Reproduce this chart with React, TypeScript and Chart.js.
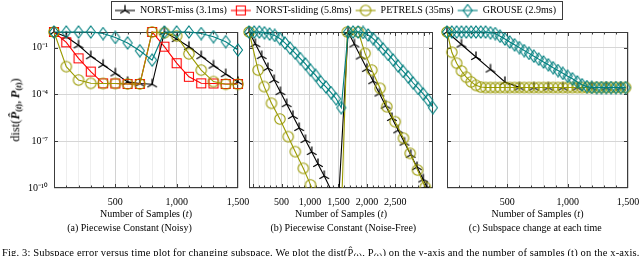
import React, { useEffect, useRef } from 'react';
import { Chart, registerables } from 'chart.js';

Chart.register(...registerables);

const FONT = "'Liberation Serif', 'Times New Roman', Times, serif";

const seriesNames = ['NORST-miss (3.1ms)', 'NORST-sliding (5.8ms)', 'PETRELS (35ms)', 'GROUSE (2.9ms)'];
const seriesColors = ['#000000', '#ff0000', '#9a9a00', '#008080'];
const seriesMarkers = ['star', 'square', 'circle', 'diamond'];

const yTickValues = [1e-10, 1e-7, 1e-4, 1e-1, 1];
const yTickLabels = ['10\u207B\u00B9\u2070', '10\u207B\u2077', '10\u207B\u2074', '10\u207B\u00B9', ''];

// ---- Panel (a): Piecewise Constant (Noisy) — values are log10 of dist ----
const aXTickLabels = [500, 1000, 1500];
const aMissT = [0, 100, 200, 300, 400, 500, 600, 700, 800, 900, 1000, 1100, 1200, 1300, 1400, 1500];
const aMissLog = [0, -0.3, -0.85, -1.55, -2.1, -2.65, -3.2, -3.3, -3.35, 0, -0.45, -0.95, -1.55, -2.15, -2.7, -3.2];
const aSlideT = [0, 100, 200, 300, 400, 500, 600, 700, 800, 900, 1000, 1100, 1200, 1300, 1400, 1500];
const aSlideLog = [0, -0.66, -1.69, -2.54, -3.29, -3.3, -3.33, -3.33, 0, -0.94, -2.0, -2.87, -3.29, -3.3, -3.33, -3.33];
const aPetT = [0, 100, 200, 300, 400, 500, 600, 700, 800, 900, 1000, 1100, 1200, 1300, 1400, 1500];
const aPetLog = [0, -2.22, -3.08, -3.29, -3.3, -3.3, -3.33, -3.33, 0, -0.05, -0.25, -1.4, -2.44, -3.18, -3.35, -3.35];
const aGrT = [0, 100, 200, 300, 400, 500, 600, 700, 800, 900, 1000, 1100, 1200, 1300, 1400, 1500];
const aGrLog = [0, 0, 0, 0, -0.1, -0.35, -0.7, -1.2, -1.8, 0, 0, 0, -0.1, -0.3, -0.62, -1.15];

// ---- Panel (b): Piecewise Constant (Noise-Free) ----
const bXTickLabels = [500, 1000, 1500, 2000, 2500];
const bMissT = [-70, 40, 150, 260, 370, 480, 590, 700, 810, 920, 1030, 1140, 1250, 1360, 1500,
  1670, 1780, 1890, 2000, 2110, 2220, 2330, 2440, 2550, 2660, 2770, 2880, 2990, 3050];
const bMissLog = [0, -0.77, -1.54, -2.31, -3.08, -3.85, -4.62, -5.38, -6.15, -6.92, -7.69, -8.46, -9.23, -10.05, -10.9,
  0, -0.79, -1.57, -2.36, -3.15, -3.94, -4.72, -5.51, -6.3, -7.09, -7.87, -8.66, -9.45, -9.9];
const bSlideT: number[] = [];
const bSlideLog: number[] = [];
const bPetT = [-70, 88, 194, 323, 471, 617, 741, 882, 1010, 1140, 1270, 1400, 1530,
  1656, 1850, 1968, 2086, 2232, 2350, 2497, 2643, 2761, 2890, 3026];
const bPetLog = [0, -2.44, -3.5, -4.57, -5.58, -6.71, -7.67, -8.74, -9.8, -11, -12, -13, -14,
  0, 0, -1.37, -2.44, -3.61, -4.79, -5.75, -6.81, -7.78, -8.85, -9.95];
const bGrT = [-70, 20, 110, 200, 290, 380, 470, 560, 650, 740, 830, 920, 1010, 1100, 1190, 1280, 1370, 1460, 1550,
  1670, 1758, 1846, 1934, 2022, 2110, 2198, 2286, 2374, 2462, 2550, 2638, 2726, 2814, 2902, 2990, 3078, 3160];
const bGrLog = [0, 0, 0, -0.05, -0.13, -0.22, -0.42, -0.7, -1.03, -1.35, -1.7, -2.05, -2.44, -2.78, -3.2, -3.52, -3.88, -4.28, -4.85,
  0, 0, 0, -0.03, -0.19, -0.42, -0.74, -1.09, -1.44, -1.79, -2.18, -2.53, -2.88, -3.27, -3.62, -3.97, -4.36, -4.85];

// ---- Panel (c): Subspace change at each time ----
const cXTickLabels = [500, 1000, 1500];
const cMissT = [0, 120, 240, 360, 480, 600, 720, 840, 960, 1080, 1200, 1320, 1440];
const cMissLog = [0, -0.8, -1.6, -2.4, -3.2, -3.55, -3.56, -3.56, -3.56, -3.56, -3.56, -3.56, -3.56];
const cSlideT: number[] = [];
const cSlideLog: number[] = [];
const cPetT = [0, 40, 80, 120, 160, 200, 240, 280, 320, 360, 400, 440, 480, 520, 560, 600, 640, 680, 720, 760,
  800, 840, 880, 920, 960, 1000, 1040, 1080, 1120, 1160, 1200, 1240, 1280, 1320, 1360, 1400, 1440, 1480];
const cPetLog = [0, -1.3, -2.0, -2.5, -2.9, -3.2, -3.42, -3.53, -3.56, -3.56, -3.56, -3.56, -3.56, -3.56, -3.56, -3.56,
  -3.56, -3.56, -3.56, -3.56, -3.56, -3.56, -3.56, -3.56, -3.56, -3.56, -3.56, -3.56, -3.56, -3.56, -3.56, -3.56,
  -3.56, -3.56, -3.56, -3.56, -3.56, -3.56];
const cGrT = [0, 40, 80, 120, 160, 200, 240, 280, 320, 360, 400, 440, 480, 520, 560, 600, 640, 680, 720, 760,
  800, 840, 880, 920, 960, 1000, 1040, 1080, 1120, 1160, 1200, 1240, 1280, 1320, 1360, 1400, 1440, 1480];
const cGrLog = [0, 0, 0, 0, 0, 0, 0, 0, 0, -0.05, -0.1, -0.27, -0.45, -0.64, -0.82, -1.0, -1.19, -1.37, -1.55, -1.74,
  -1.92, -2.1, -2.29, -2.47, -2.65, -2.84, -3.0, -3.2, -3.38, -3.5, -3.55, -3.56, -3.56, -3.56, -3.56, -3.56, -3.56, -3.56];

type Panel = {
  left: number; right: number; xMin: number; xMax: number; labeled: number[]; showY: boolean;
  series: [number[], number[]][];
};

const PLOT_TOP = 32;
const PLOT_BOTTOM = 188;
const X_AXIS_H = 24;
const Y_AXIS_W = 40;

const panels: Panel[] = [
  { left: 54, right: 238, xMin: 0, xMax: 1500, labeled: aXTickLabels, showY: true,
    series: [[aMissT, aMissLog], [aSlideT, aSlideLog], [aPetT, aPetLog], [aGrT, aGrLog]] },
  { left: 249, right: 433, xMin: -72, xMax: 3162, labeled: bXTickLabels, showY: false,
    series: [[bMissT, bMissLog], [bSlideT, bSlideLog], [bPetT, bPetLog], [bGrT, bGrLog]] },
  { left: 447, right: 628, xMin: 0, xMax: 1500, labeled: cXTickLabels, showY: false,
    series: [[cMissT, cMissLog], [cSlideT, cSlideLog], [cPetT, cPetLog], [cGrT, cGrLog]] },
];

function markerCanvas(kind: string, color: string, withLine: boolean): HTMLCanvasElement {
  const w = withLine ? 22 : 14;
  const h = 14;
  const c = document.createElement('canvas');
  c.width = w; c.height = h;
  const g = c.getContext('2d')!;
  g.strokeStyle = color;
  g.lineWidth = 1.1;
  const cx = w / 2, cy = h / 2;
  if (withLine) {
    g.beginPath(); g.moveTo(1, cy); g.lineTo(w - 1, cy); g.stroke();
  }
  g.beginPath();
  if (kind === 'star') {
    for (const a of [90, 210, 330]) {
      const r = (a * Math.PI) / 180;
      g.moveTo(cx, cy);
      g.lineTo(cx + 5.5 * Math.cos(r), cy - 5.5 * Math.sin(r));
    }
    g.lineWidth = 1.3;
  } else if (kind === 'square') {
    g.rect(cx - 4.5, cy - 4.5, 9, 9);
  } else if (kind === 'circle') {
    g.arc(cx, cy, 5.2, 0, Math.PI * 2);
  } else {
    g.moveTo(cx, cy - 6); g.lineTo(cx + 4.5, cy); g.lineTo(cx, cy + 6); g.lineTo(cx - 4.5, cy); g.closePath();
  }
  g.stroke();
  return c;
}

const framePlugin = {
  id: 'frame',
  beforeDatasetsDraw(chart: any) {
    const { ctx, chartArea: a, scales } = chart;
    const L = Math.round(a.left) + 0.5, R = Math.round(a.right) - 0.5;
    const T = Math.round(a.top) + 0.5, B = Math.round(a.bottom) - 0.5;
    ctx.save();
    ctx.strokeStyle = '#3c3c3c';
    ctx.lineWidth = 1;
    ctx.beginPath();
    for (const t of scales.x.ticks) {
      const px = Math.round(scales.x.getPixelForValue(t.value)) + 0.5;
      if (px <= L + 1 || px >= R - 1) continue;
      const len = t.value % 500 === 0 ? 3.5 : 2;
      ctx.moveTo(px, B); ctx.lineTo(px, B - len);
      ctx.moveTo(px, T); ctx.lineTo(px, T + len);
    }
    for (const t of scales.y.ticks) {
      const py = Math.round(scales.y.getPixelForValue(t.value)) + 0.5;
      if (py <= T + 1 || py >= B - 1) continue;
      ctx.moveTo(L, py); ctx.lineTo(L + 3.5, py);
      ctx.moveTo(R, py); ctx.lineTo(R - 3.5, py);
    }
    ctx.stroke();
    ctx.strokeRect(L, T, R - L, B - T);
    ctx.restore();
  },
};

const legendBoxPlugin = {
  id: 'legendBox',
  afterDraw(chart: any) {
    const lg = chart.legend;
    if (!lg || !lg.legendHitBoxes || !lg.legendHitBoxes.length) return;
    const hb = lg.legendHitBoxes;
    const last = hb[hb.length - 1];
    const l = Math.round(hb[0].left - 4) + 0.5;
    const r = Math.round(last.left + last.width + 6) + 0.5;
    const t = 1.5, b = 19.5;
    const { ctx } = chart;
    ctx.save();
    ctx.strokeStyle = '#3c3c3c';
    ctx.lineWidth = 1;
    ctx.strokeRect(l, t, r - l, b - t);
    ctx.restore();
  },
};

function fmt(v: number) {
  return v.toLocaleString('en-US');
}

function makePanelChart(canvas: HTMLCanvasElement, p: Panel) {
  const yw = p.showY ? Y_AXIS_W : 0;
  const datasets = p.series.map(([ts, logs], i) => ({
    label: seriesNames[i],
    data: ts.map((x, k) => ({ x, y: Math.pow(10, logs[k]) })),
    borderColor: seriesColors[i],
    backgroundColor: 'transparent',
    borderWidth: 1.1,
    pointStyle: markerCanvas(seriesMarkers[i], seriesColors[i], false),
    pointRadius: (ctx: any) => (ctx.raw && ctx.raw.y < 0.99e-10 ? 0 : 5),
    pointHoverRadius: 0,
    tension: 0,
    fill: false,
    order: 3 - i,
    clip: { left: 10, top: 10, right: 10, bottom: 0 },
  }));
  return new Chart(canvas, {
    type: 'line',
    data: { datasets } as any,
    plugins: [framePlugin],
    options: {
      responsive: false,
      animation: false,
      events: [],
      layout: {
        padding: { left: p.left - yw, right: 640 - p.right, top: PLOT_TOP, bottom: 256 - PLOT_BOTTOM - X_AXIS_H },
      },
      plugins: { legend: { display: false }, tooltip: { enabled: false } },
      scales: {
        x: {
          type: 'linear',
          min: p.xMin,
          max: p.xMax,
          afterFit: (s: any) => { s.height = X_AXIS_H; s.paddingLeft = 0; s.paddingRight = 0; },
          border: { display: false },
          grid: {
            drawTicks: false,
            color: (ctx: any) => (ctx.tick && ctx.tick.value % 500 === 0 ? '#d2d2d2' : '#eeeeee'),
            lineWidth: 1,
          },
          ticks: {
            stepSize: 100,
            autoSkip: false,
            includeBounds: false,
            maxRotation: 0,
            minRotation: 0,
            padding: 8.5,
            color: '#000',
            font: { family: FONT, size: 10 },
            callback: (v: any) => (p.labeled.includes(Number(v)) ? fmt(Number(v)) : ''),
          },
        },
        y: {
          type: 'logarithmic',
          min: 1e-10,
          max: 1,
          afterFit: (s: any) => { s.width = yw; s.paddingTop = 0; s.paddingBottom = 0; },
          afterBuildTicks: (s: any) => { s.ticks = yTickValues.map((value) => ({ value })); },
          border: { display: false },
          grid: { drawTicks: false, color: '#d6d6d6', lineWidth: 1 },
          ticks: {
            display: p.showY,
            padding: 6,
            color: '#000',
            font: { family: FONT, size: 10 },
            callback: (v: any) => {
              const idx = yTickValues.findIndex((t) => Math.abs(Math.log10(t) - Math.log10(Number(v))) < 1e-6);
              return idx >= 0 ? yTickLabels[idx] : '';
            },
          },
        },
      },
    } as any,
  });
}

function makeLegendChart(canvas: HTMLCanvasElement) {
  const icons = seriesMarkers.map((m, i) => markerCanvas(m, seriesColors[i], true));
  return new Chart(canvas, {
    type: 'line',
    data: { datasets: seriesNames.map((n) => ({ label: n, data: [] })) },
    plugins: [legendBoxPlugin],
    options: {
      responsive: false,
      animation: false,
      events: [],
      layout: { padding: { left: 31, right: 0, top: 1.5, bottom: 0 } },
      scales: { x: { display: false }, y: { display: false } },
      plugins: {
        tooltip: { enabled: false },
        legend: {
          display: true,
          position: 'top',
          labels: {
            usePointStyle: true,
            pointStyleWidth: 20,
            padding: 4,
            color: '#000',
            font: { family: FONT, size: 10 },
            generateLabels: () =>
              seriesNames.map((text, i) => ({
                text,
                pointStyle: icons[i],
                rotation: 0,
                fillStyle: 'transparent',
                strokeStyle: 'transparent',
                lineWidth: 0,
                hidden: false,
                datasetIndex: i,
                fontColor: '#000',
              })),
          },
        },
      },
    } as any,
  });
}

const canvasStyle: React.CSSProperties = { position: 'absolute', left: 0, top: 0, width: 640, height: 256 };

function Label(props: { cx: number; cy: number; size?: number; children: React.ReactNode }) {
  return (
    <div
      style={{
        position: 'absolute', left: props.cx, top: props.cy, transform: 'translate(-50%, -50%)',
        whiteSpace: 'nowrap', fontFamily: FONT, fontSize: props.size || 10, lineHeight: 1, color: '#000',
      }}
    >
      {props.children}
    </div>
  );
}

const subStyle: React.CSSProperties = { fontSize: 8.5, verticalAlign: '-2px', fontWeight: 'bold' };

export default function App() {
  const legendRef = useRef<HTMLCanvasElement>(null);
  const aRef = useRef<HTMLCanvasElement>(null);
  const bRef = useRef<HTMLCanvasElement>(null);
  const cRef = useRef<HTMLCanvasElement>(null);

  useEffect(() => {
    const charts: Chart[] = [];
    const refs = [aRef, bRef, cRef];
    refs.forEach((r, i) => {
      if (r.current) charts.push(makePanelChart(r.current, panels[i]));
    });
    if (legendRef.current) charts.push(makeLegendChart(legendRef.current));
    return () => charts.forEach((c) => c.destroy());
  }, []);

  const xTitleCx = [146, 341, 537.5];
  const captionCx = [129.5, 343.3, 535.3];
  const captions = ['(a) Piecewise Constant (Noisy)', '(b) Piecewise Constant (Noise-Free)', '(c) Subspace change at each time'];

  return (
    <div style={{ position: 'fixed', left: 0, top: 0, width: 640, height: 256, background: '#fff', overflow: 'hidden' }}>
      <canvas ref={aRef} width={640} height={256} style={canvasStyle} />
      <canvas ref={bRef} width={640} height={256} style={canvasStyle} />
      <canvas ref={cRef} width={640} height={256} style={canvasStyle} />
      <canvas ref={legendRef} width={640} height={256} style={canvasStyle} />
      {xTitleCx.map((cx, i) => (
        <Label key={'xt' + i} cx={cx} cy={214.3}>
          Number of Samples (<i>t</i>)
        </Label>
      ))}
      {captions.map((c, i) => (
        <Label key={'cap' + i} cx={captionCx[i]} cy={228.3}>
          {c}
        </Label>
      ))}
      <div
        style={{
          position: 'absolute', left: 16, top: 110, transform: 'translate(-50%, -50%) rotate(-90deg)',
          whiteSpace: 'nowrap', fontFamily: FONT, fontSize: 12.5, lineHeight: 1, color: '#000',
        }}
      >
        dist(<b><i>P&#770;</i></b><span style={subStyle}>(<i>t</i>)</span>,&#8201;<b><i>P</i></b><span style={subStyle}>(<i>t</i>)</span>)
      </div>
      <div
        style={{
          position: 'absolute', left: 2, top: 246, whiteSpace: 'nowrap', fontFamily: FONT, fontSize: 10.5,
          lineHeight: '13px', color: '#000', letterSpacing: '0.15px',
        }}
      >
        Fig. 3: Subspace error versus time plot for changing subspace. We plot the dist(P&#770;<sub>(t)</sub>, P<sub>(t)</sub>) on the y-axis and the number of samples (t) on the x-axis.
      </div>
    </div>
  );
}
